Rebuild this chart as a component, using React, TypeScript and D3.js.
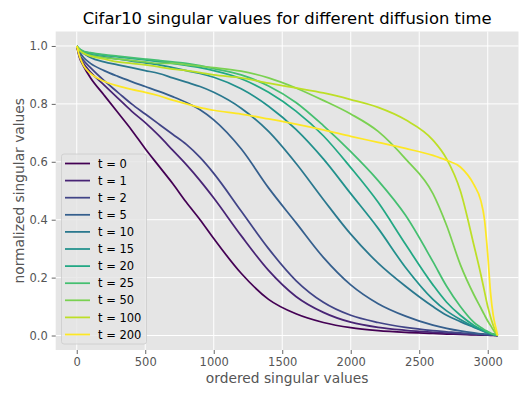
import React, { useEffect, useRef } from 'react';
import * as d3 from 'd3';

// diffusion times shown in the legend
const times = [0, 1, 2, 5, 10, 15, 20, 25, 50, 100, 200];

// index of the singular value (x positions where the curves were read)
const ranks = [0, 20, 50, 100, 200, 300, 400, 500, 600, 700, 800, 900, 1000, 1200, 1400, 1600, 1800, 2000, 2200, 2400, 2600, 2700, 2800, 2900, 2950, 2975, 3000, 3020, 3040, 3060, 3072];

// normalized singular values, one array per diffusion time
const t0 = [1.0, 0.96, 0.93, 0.89, 0.83, 0.77, 0.71, 0.645, 0.585, 0.525, 0.46, 0.40, 0.335, 0.215, 0.125, 0.075, 0.045, 0.027, 0.017, 0.011, 0.007, 0.005, 0.004, 0.002, 0.0015, 0.0012, 0.001, 0.0008, 0.0005, 0.0002, 0];
const t1 = [1.0, 0.965, 0.94, 0.91, 0.865, 0.82, 0.775, 0.735, 0.69, 0.64, 0.59, 0.535, 0.475, 0.345, 0.225, 0.135, 0.08, 0.046, 0.028, 0.018, 0.011, 0.008, 0.006, 0.004, 0.003, 0.0025, 0.002, 0.0015, 0.001, 0.0004, 0];
const t2 = [1.0, 0.97, 0.95, 0.925, 0.88, 0.84, 0.80, 0.765, 0.73, 0.695, 0.66, 0.615, 0.56, 0.43, 0.30, 0.19, 0.115, 0.07, 0.045, 0.028, 0.017, 0.013, 0.009, 0.006, 0.004, 0.0035, 0.003, 0.002, 0.001, 0.0005, 0];
const t5 = [1.0, 0.98, 0.96, 0.94, 0.915, 0.895, 0.877, 0.86, 0.843, 0.825, 0.805, 0.78, 0.745, 0.645, 0.51, 0.39, 0.27, 0.175, 0.11, 0.067, 0.036, 0.025, 0.016, 0.009, 0.006, 0.005, 0.004, 0.003, 0.002, 0.001, 0];
const t10 = [1.0, 0.985, 0.975, 0.96, 0.945, 0.935, 0.925, 0.915, 0.905, 0.89, 0.875, 0.86, 0.84, 0.785, 0.705, 0.595, 0.47, 0.35, 0.25, 0.17, 0.10, 0.07, 0.048, 0.028, 0.018, 0.013, 0.009, 0.006, 0.004, 0.002, 0];
const t15 = [1.0, 0.985, 0.978, 0.97, 0.962, 0.955, 0.948, 0.942, 0.935, 0.925, 0.915, 0.905, 0.892, 0.852, 0.792, 0.712, 0.61, 0.49, 0.37, 0.235, 0.125, 0.085, 0.055, 0.03, 0.02, 0.015, 0.01, 0.007, 0.004, 0.002, 0];
const t20 = [1.0, 0.99, 0.98, 0.975, 0.968, 0.962, 0.957, 0.952, 0.946, 0.94, 0.933, 0.925, 0.915, 0.887, 0.84, 0.775, 0.69, 0.58, 0.46, 0.315, 0.175, 0.115, 0.07, 0.035, 0.022, 0.016, 0.011, 0.007, 0.004, 0.002, 0];
const t25 = [1.0, 0.99, 0.982, 0.977, 0.97, 0.965, 0.96, 0.955, 0.95, 0.945, 0.94, 0.932, 0.922, 0.90, 0.862, 0.805, 0.725, 0.635, 0.535, 0.415, 0.255, 0.17, 0.10, 0.045, 0.028, 0.02, 0.014, 0.009, 0.005, 0.002, 0];
const t50 = [1.0, 0.985, 0.975, 0.968, 0.96, 0.955, 0.95, 0.945, 0.94, 0.94, 0.935, 0.93, 0.925, 0.913, 0.89, 0.855, 0.812, 0.765, 0.705, 0.61, 0.49, 0.38, 0.245, 0.14, 0.095, 0.072, 0.05, 0.035, 0.02, 0.007, 0];
const t100 = [1.0, 0.985, 0.975, 0.965, 0.955, 0.945, 0.94, 0.935, 0.928, 0.92, 0.915, 0.908, 0.90, 0.89, 0.872, 0.855, 0.838, 0.815, 0.788, 0.745, 0.675, 0.61, 0.50, 0.31, 0.21, 0.155, 0.10, 0.065, 0.035, 0.012, 0];
const t200 = [1.0, 0.965, 0.932, 0.905, 0.878, 0.862, 0.85, 0.84, 0.828, 0.813, 0.80, 0.787, 0.778, 0.765, 0.748, 0.73, 0.71, 0.688, 0.667, 0.646, 0.622, 0.605, 0.582, 0.52, 0.465, 0.405, 0.28, 0.15, 0.07, 0.025, 0];

const series = [t0, t1, t2, t5, t10, t15, t20, t25, t50, t100, t200];

const xTicks = [0, 500, 1000, 1500, 2000, 2500, 3000];
const yTicks = [0, 0.2, 0.4, 0.6, 0.8, 1.0];

const App = () => {
    const svgRef = useRef(null);

    useEffect(() => {
        const W = 531;
        const H = 399;
        const margin = { top: 31.5, right: 12.5, bottom: 49, left: 55.7 };
        const width = W - margin.left - margin.right;
        const height = H - margin.top - margin.bottom;
        const font = 'DejaVu Sans, sans-serif';

        const xMax = 3071;
        const scaleX = d3.scaleLinear()
            .domain([-0.05 * xMax, 1.05 * xMax])
            .range([0, width]);
        const scaleY = d3.scaleLinear()
            .domain([-0.05, 1.05])
            .range([height, 0]);

        const svg = d3.select(svgRef.current);
        svg.selectAll('*').remove();
        svg.attr('width', W).attr('height', H);

        svg.append('rect').attr('width', W).attr('height', H).attr('fill', '#ffffff');

        const g = svg.append('g').attr('transform', `translate(${margin.left},${margin.top})`);

        // axes background
        g.append('rect')
            .attr('width', width)
            .attr('height', height)
            .attr('fill', '#e5e5e5');

        // grid
        g.selectAll('.vgrid')
            .data(xTicks)
            .enter()
            .append('line')
            .attr('x1', d => scaleX(d))
            .attr('x2', d => scaleX(d))
            .attr('y1', 0)
            .attr('y2', height)
            .attr('stroke', '#ffffff')
            .attr('stroke-width', 1);
        g.selectAll('.hgrid')
            .data(yTicks)
            .enter()
            .append('line')
            .attr('x1', 0)
            .attr('x2', width)
            .attr('y1', d => scaleY(d))
            .attr('y2', d => scaleY(d))
            .attr('stroke', '#ffffff')
            .attr('stroke-width', 1);

        // x axis
        const xAxis = g.append('g')
            .attr('transform', `translate(0,${height})`)
            .call(d3.axisBottom(scaleX).tickValues(xTicks).tickSize(4).tickPadding(4).tickFormat(d3.format('d')));
        // y axis
        const yAxis = g.append('g')
            .call(d3.axisLeft(scaleY).tickValues(yTicks).tickSize(4).tickPadding(4).tickFormat(d3.format('.1f')));

        [xAxis, yAxis].forEach(ax => {
            ax.select('.domain').remove();
            ax.selectAll('line').attr('stroke', '#555555').attr('stroke-width', 0.9);
            ax.selectAll('text')
                .attr('fill', '#555555')
                .attr('font-family', font)
                .attr('font-size', 11.5);
        });

        const colors = times.map((t, i) => d3.interpolateViridis(i / (times.length - 1)));

        const line = d3.line()
            .x((d, i) => scaleX(ranks[i]))
            .y(d => scaleY(d))
            .curve(d3.curveMonotoneX);

        g.selectAll('.curve')
            .data(series)
            .enter()
            .append('path')
            .attr('class', 'curve')
            .attr('d', d => line(d))
            .attr('fill', 'none')
            .attr('stroke', (d, i) => colors[i])
            .attr('stroke-width', 1.75)
            .attr('stroke-linejoin', 'round');

        // title and axis labels
        svg.append('text')
            .attr('x', margin.left + width / 2)
            .attr('y', 24)
            .attr('text-anchor', 'middle')
            .attr('font-family', font)
            .attr('font-size', 16.4)
            .attr('fill', '#000000')
            .text('Cifar10 singular values for different diffusion time');

        svg.append('text')
            .attr('x', margin.left + width / 2)
            .attr('y', 383)
            .attr('text-anchor', 'middle')
            .attr('font-family', font)
            .attr('font-size', 13.8)
            .attr('fill', '#555555')
            .text('ordered singular values');

        svg.append('text')
            .attr('transform', `translate(23.5,${margin.top + height / 2}) rotate(-90)`)
            .attr('text-anchor', 'middle')
            .attr('font-family', font)
            .attr('font-size', 13.8)
            .attr('fill', '#555555')
            .text('normalized singular values');

        // legend
        const legend = svg.append('g').attr('transform', 'translate(61.5,154)');
        legend.append('rect')
            .attr('width', 85)
            .attr('height', 190)
            .attr('rx', 2.5)
            .attr('fill', '#e5e5e5')
            .attr('fill-opacity', 0.8)
            .attr('stroke', '#cccccc')
            .attr('stroke-width', 0.8);

        const items = legend.selectAll('.item')
            .data(times)
            .enter()
            .append('g')
            .attr('transform', (d, i) => `translate(0,${9.5 + i * 17.1})`);
        items.append('line')
            .attr('x1', 3.5)
            .attr('x2', 28.5)
            .attr('stroke', (d, i) => colors[i])
            .attr('stroke-width', 1.75);
        items.append('text')
            .attr('x', 36.5)
            .attr('dy', '0.36em')
            .attr('font-family', font)
            .attr('font-size', 11.5)
            .attr('fill', '#000000')
            .text(d => `t = ${d}`);
    }, []);

    return (
        <svg ref={svgRef} style={{ position: 'absolute', left: 0, top: 0 }}></svg>
    );
};

export default App;
